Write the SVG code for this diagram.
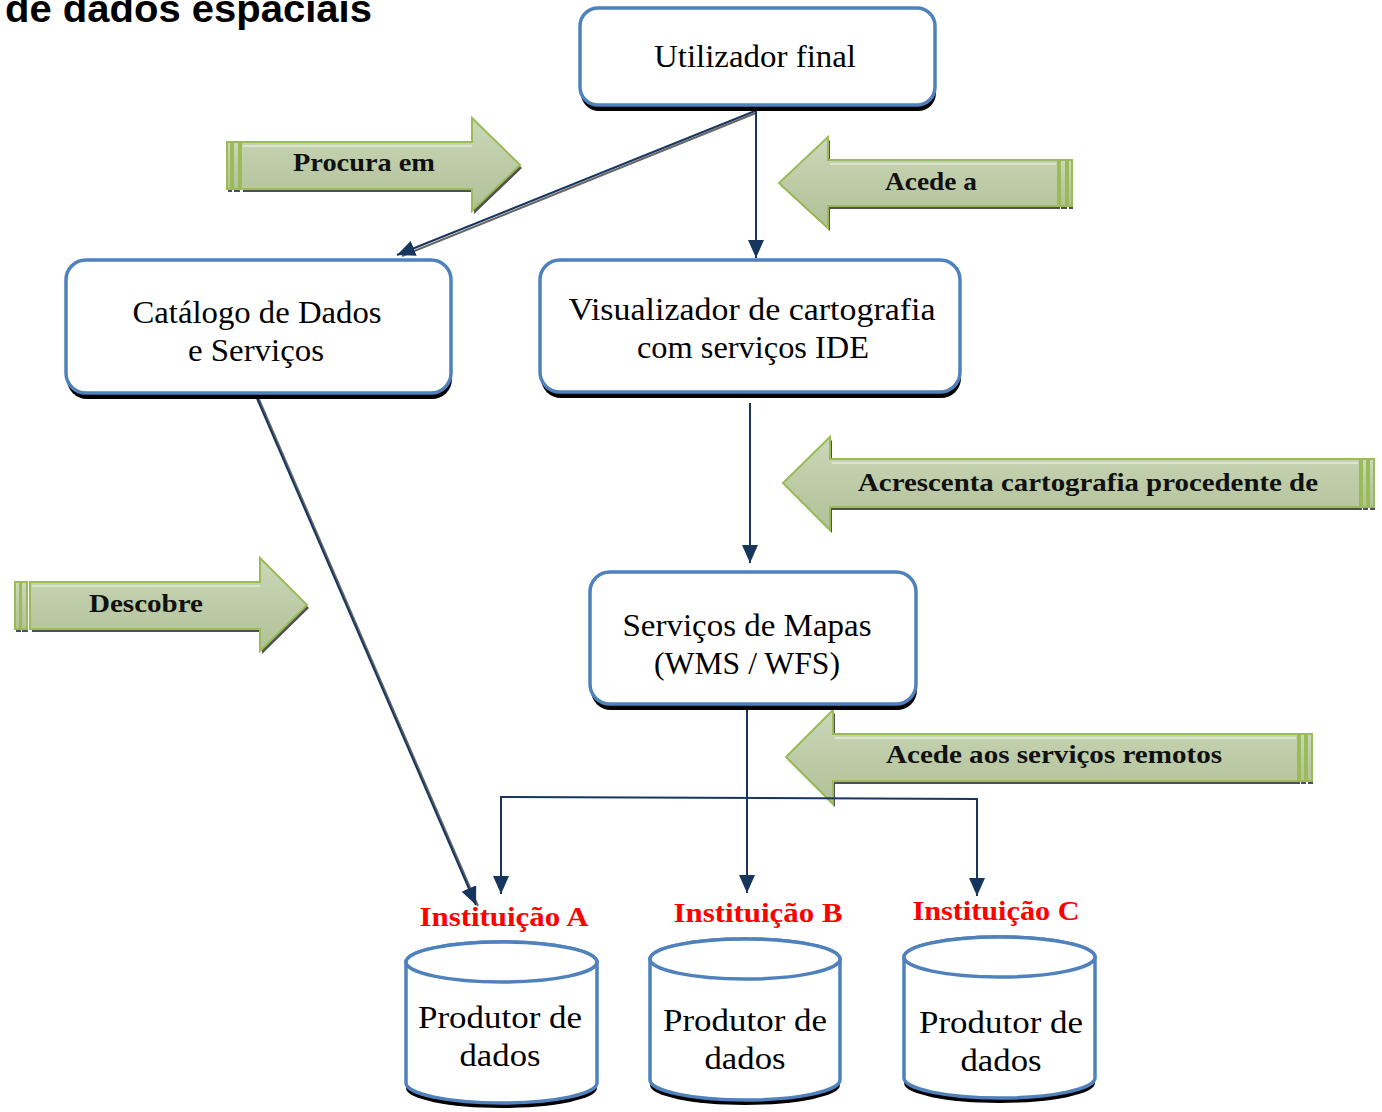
<svg xmlns="http://www.w3.org/2000/svg" width="1382" height="1112" viewBox="0 0 1382 1112">
<defs>
<linearGradient id="gg" x1="0" y1="0" x2="0" y2="1">
<stop offset="0" stop-color="#CCD9BA"/>
<stop offset="0.5" stop-color="#BDCBA7"/>
<stop offset="1" stop-color="#B1C298"/>
</linearGradient>
<marker id="ah" viewBox="0 0 18 16" markerWidth="18" markerHeight="16" refX="18" refY="8" orient="auto-start-reverse" markerUnits="userSpaceOnUse">
<path d="M0,0 L18,8 L0,16 Z" fill="#17365D"/>
</marker>
<style>
.box{fill:#fff;stroke:#4F81BD;stroke-width:3.5}
.sh{fill:#000}
.bt{font-family:"Liberation Serif",serif;font-size:31px;fill:#000;text-anchor:middle}
.gt{font-family:"Liberation Serif",serif;font-weight:bold;font-size:26px;fill:#111;text-anchor:middle}
.rt{font-family:"Liberation Serif",serif;font-weight:bold;font-size:27px;fill:#FF0000;text-anchor:middle}
.ga{fill:url(#gg);stroke:#9BBB59;stroke-width:2}
.gs{fill:#505050}
.cn{fill:none;stroke:#17365D;stroke-width:2}
</style>
</defs>
<rect width="1382" height="1112" fill="#fff"/>
<text x="5" y="22" font-family="Liberation Sans, sans-serif" font-weight="bold" font-size="38" textLength="367" lengthAdjust="spacingAndGlyphs">de dados espaciais</text>

<g id="arrow-procura">
<polygon class="gs" transform="translate(2,3)" points="241,142 472,142 472,118 520,165 472,211 472,189 241,189"/>
<rect class="gs" x="228" y="145" width="4" height="47"/><rect class="gs" x="234" y="145" width="6" height="47"/>
<rect class="ga" x="227" y="142" width="4" height="47"/><rect class="ga" x="233" y="142" width="6" height="47"/>
<polygon class="ga" points="241,142 472,142 472,118 520,165 472,211 472,189 241,189"/>
<line x1="243" y1="146" x2="472" y2="146" stroke="#E4ECD8" stroke-width="1.5"/>
<text class="gt" x="364" y="171" textLength="142" lengthAdjust="spacingAndGlyphs">Procura em</text>
</g>

<g id="arrow-acede">
<polygon class="gs" transform="translate(2,3)" points="828,160 1058,160 1058,206 828,206 828,228 779,183 828,137"/>
<rect class="gs" x="1061" y="163" width="6" height="46"/><rect class="gs" x="1069" y="163" width="4" height="46"/>
<rect class="ga" x="1060" y="160" width="6" height="46"/><rect class="ga" x="1068" y="160" width="4" height="46"/>
<polygon class="ga" points="828,160 1058,160 1058,206 828,206 828,228 779,183 828,137"/>
<line x1="830" y1="164" x2="1056" y2="164" stroke="#E4ECD8" stroke-width="1.5"/>
<text class="gt" x="931" y="190" textLength="92" lengthAdjust="spacingAndGlyphs">Acede a</text>
</g>

<g id="arrow-acrescenta">
<polygon class="gs" transform="translate(2,3)" points="830,459 1360,459 1360,507 830,507 830,530 783,483 830,437"/>
<rect class="gs" x="1363" y="462" width="5" height="48"/><rect class="gs" x="1370" y="462" width="5" height="48"/>
<rect class="ga" x="1362" y="459" width="5" height="48"/><rect class="ga" x="1369" y="459" width="5" height="48"/>
<polygon class="ga" points="830,459 1360,459 1360,507 830,507 830,530 783,483 830,437"/>
<line x1="832" y1="463" x2="1358" y2="463" stroke="#E4ECD8" stroke-width="1.5"/>
<text class="gt" x="1088" y="491" textLength="460" lengthAdjust="spacingAndGlyphs">Acrescenta cartografia procedente de</text>
</g>

<g id="arrow-descobre">
<polygon class="gs" transform="translate(2,3)" points="30,582 260,582 260,558 307,605 260,651 260,629 30,629"/>
<rect class="gs" x="16" y="585" width="5" height="47"/><rect class="gs" x="22" y="585" width="6" height="47"/>
<rect class="ga" x="15" y="582" width="5" height="47"/><rect class="ga" x="21" y="582" width="6" height="47"/>
<polygon class="ga" points="30,582 260,582 260,558 307,605 260,651 260,629 30,629"/>
<line x1="32" y1="586" x2="260" y2="586" stroke="#E4ECD8" stroke-width="1.5"/>
<text class="gt" x="146" y="612" textLength="114" lengthAdjust="spacingAndGlyphs">Descobre</text>
</g>

<g id="arrow-remotos">
<polygon class="gs" transform="translate(2,3)" points="833,734 1298,734 1298,781 833,781 833,804 786,757 833,710"/>
<rect class="gs" x="1301" y="737" width="5" height="47"/><rect class="gs" x="1308" y="737" width="5" height="47"/>
<rect class="ga" x="1300" y="734" width="5" height="47"/><rect class="ga" x="1307" y="734" width="5" height="47"/>
<polygon class="ga" points="833,734 1298,734 1298,781 833,781 833,804 786,757 833,710"/>
<line x1="835" y1="738" x2="1296" y2="738" stroke="#E4ECD8" stroke-width="1.5"/>
<text class="gt" x="1054" y="763" textLength="336" lengthAdjust="spacingAndGlyphs">Acede aos serviços remotos</text>
</g>

<g id="connectors">
<line x1="756" y1="113" x2="402" y2="256" stroke="#666" stroke-width="2"/>
<line class="cn" x1="755" y1="111" x2="397" y2="255" marker-end="url(#ah)"/>
<line class="cn" x1="756" y1="111" x2="756" y2="258" marker-end="url(#ah)"/>
<line x1="258" y1="397" x2="478" y2="906" stroke="#666" stroke-width="2"/>
<line class="cn" x1="256" y1="396" x2="476" y2="905" stroke-width="2.5" marker-end="url(#ah)"/>
<line class="cn" x1="750" y1="403" x2="750" y2="563" marker-end="url(#ah)"/>
<line class="cn" x1="747" y1="708" x2="747" y2="893" marker-end="url(#ah)"/>
<path class="cn" d="M501,894 L501,797 L977,799 L977,896" marker-start="url(#ah)" marker-end="url(#ah)"/>
</g>

<g id="utilizador">
<rect class="sh" x="581" y="14" width="355" height="97" rx="18"/>
<rect class="box" x="580" y="8" width="355" height="97" rx="18"/>
<text class="bt" x="755" y="67" textLength="202" lengthAdjust="spacingAndGlyphs">Utilizador final</text>
</g>

<g id="catalogo">
<rect class="sh" x="67" y="266" width="385" height="133" rx="20"/>
<rect class="box" x="66" y="260" width="385" height="133" rx="20"/>
<text class="bt" x="257" y="323" textLength="249" lengthAdjust="spacingAndGlyphs">Catálogo de Dados</text>
<text class="bt" x="256" y="361" textLength="136" lengthAdjust="spacingAndGlyphs">e Serviços</text>
</g>

<g id="visualizador">
<rect class="sh" x="541" y="266" width="420" height="132" rx="20"/>
<rect class="box" x="540" y="260" width="420" height="132" rx="20"/>
<text class="bt" x="752" y="320" textLength="367" lengthAdjust="spacingAndGlyphs">Visualizador de cartografia</text>
<text class="bt" x="753" y="358" textLength="232" lengthAdjust="spacingAndGlyphs">com serviços IDE</text>
</g>

<g id="servicos">
<rect class="sh" x="591" y="578" width="326" height="132" rx="20"/>
<rect class="box" x="590" y="572" width="326" height="132" rx="20"/>
<text class="bt" x="747" y="636" textLength="249" lengthAdjust="spacingAndGlyphs">Serviços de Mapas</text>
<text class="bt" x="747" y="674" textLength="186" lengthAdjust="spacingAndGlyphs">(WMS / WFS)</text>
</g>

<g id="instituicao-a">
<text class="rt" x="504" y="926" textLength="169" lengthAdjust="spacingAndGlyphs">Instituição A</text>
<path class="sh" d="M406,967 L406,1088 A95.5,20 0 0 0 597,1088 L597,967 Z"/>
<path class="box" d="M406,962 L406,1083 A95.5,20 0 0 0 597,1083 L597,962 A95.5,20 0 0 0 406,962 Z"/>
<ellipse cx="501.5" cy="962" rx="95.5" ry="20" fill="#fff" stroke="#4F81BD" stroke-width="3.5"/>
<text class="bt" x="500" y="1028" textLength="164" lengthAdjust="spacingAndGlyphs">Produtor de</text>
<text class="bt" x="500" y="1066" textLength="81" lengthAdjust="spacingAndGlyphs">dados</text>
</g>

<g id="instituicao-b">
<text class="rt" x="758" y="922" textLength="169" lengthAdjust="spacingAndGlyphs">Instituição B</text>
<path class="sh" d="M650,964 L650,1085 A95,20 0 0 0 840,1085 L840,964 Z"/>
<path class="box" d="M650,959 L650,1080 A95,20 0 0 0 840,1080 L840,959 A95,20 0 0 0 650,959 Z"/>
<ellipse cx="745" cy="959" rx="95" ry="20" fill="#fff" stroke="#4F81BD" stroke-width="3.5"/>
<text class="bt" x="745" y="1031" textLength="164" lengthAdjust="spacingAndGlyphs">Produtor de</text>
<text class="bt" x="745" y="1069" textLength="81" lengthAdjust="spacingAndGlyphs">dados</text>
</g>

<g id="instituicao-c">
<text class="rt" x="996" y="920" textLength="167" lengthAdjust="spacingAndGlyphs">Instituição C</text>
<path class="sh" d="M904,962 L904,1083 A95.5,20 0 0 0 1095,1083 L1095,962 Z"/>
<path class="box" d="M904,957 L904,1078 A95.5,20 0 0 0 1095,1078 L1095,957 A95.5,20 0 0 0 904,957 Z"/>
<ellipse cx="999.5" cy="957" rx="95.5" ry="20" fill="#fff" stroke="#4F81BD" stroke-width="3.5"/>
<text class="bt" x="1001" y="1033" textLength="164" lengthAdjust="spacingAndGlyphs">Produtor de</text>
<text class="bt" x="1001" y="1071" textLength="81" lengthAdjust="spacingAndGlyphs">dados</text>
</g>
</svg>
